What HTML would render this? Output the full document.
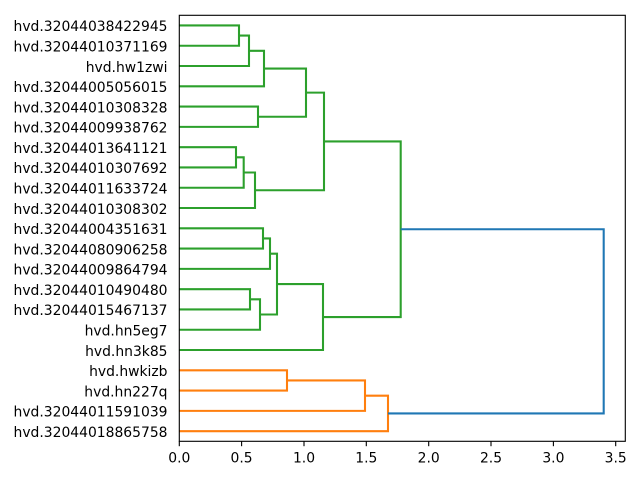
<!DOCTYPE html>
<html>
<head>
<meta charset="utf-8">
<style>
html,body{margin:0;padding:0;background:#fff;}
svg{display:block;}
text{font-family:"DejaVu Sans","Liberation Sans",sans-serif;font-size:13.9px;fill:#000;}
</style>
</head>
<body>
<svg width="640" height="480" viewBox="0 0 640 480" xmlns="http://www.w3.org/2000/svg">
<rect x="0" y="0" width="640" height="480" fill="#fff"/>
<g fill="none" stroke-width="2.08" stroke-linejoin="miter" stroke-linecap="butt">
<g stroke="#2ca02c">
<polyline points="179.3,25.44 239,25.44 239,45.73 179.3,45.73"/>
<polyline points="239,35.59 249,35.59 249,66.01 179.3,66.01"/>
<polyline points="249,50.80 264,50.80 264,86.30 179.3,86.30"/>
<polyline points="179.3,106.59 258,106.59 258,126.87 179.3,126.87"/>
<polyline points="264,68.55 306,68.55 306,116.73 258,116.73"/>
<polyline points="179.3,147.16 236,147.16 236,167.44 179.3,167.44"/>
<polyline points="236,157.30 243.7,157.30 243.7,187.73 179.3,187.73"/>
<polyline points="243.7,172.52 255,172.52 255,208.01 179.3,208.01"/>
<polyline points="306,92.64 324,92.64 324,190.26 255,190.26"/>
<polyline points="179.3,228.30 263,228.30 263,248.59 179.3,248.59"/>
<polyline points="263,238.44 270,238.44 270,268.87 179.3,268.87"/>
<polyline points="179.3,289.16 250,289.16 250,309.44 179.3,309.44"/>
<polyline points="250,299.30 260,299.30 260,329.73 179.3,329.73"/>
<polyline points="270,253.66 277,253.66 277,314.51 260,314.51"/>
<polyline points="277,284.09 323,284.09 323,350.02 179.3,350.02"/>
<polyline points="324,141.45 400.7,141.45 400.7,317.05 323,317.05"/>
</g>
<g stroke="#ff7f0e">
<polyline points="179.3,370.30 287,370.30 287,390.59 179.3,390.59"/>
<polyline points="287,380.44 365,380.44 365,410.87 179.3,410.87"/>
<polyline points="365,395.66 388,395.66 388,431.16 179.3,431.16"/>
</g>
<g stroke="#1f77b4">
<polyline points="400.7,229.25 603.7,229.25 603.7,413.41 388,413.41"/>
</g>
</g>
<rect x="179.3" y="15.3" width="446" height="426" fill="none" stroke="#000" stroke-width="1.11"/>
<g stroke="#000" stroke-width="1.11">
<line x1="179.3" y1="441.3" x2="179.3" y2="446.2"/>
<line x1="241.6" y1="441.3" x2="241.6" y2="446.2"/>
<line x1="304.0" y1="441.3" x2="304.0" y2="446.2"/>
<line x1="366.3" y1="441.3" x2="366.3" y2="446.2"/>
<line x1="428.7" y1="441.3" x2="428.7" y2="446.2"/>
<line x1="491.0" y1="441.3" x2="491.0" y2="446.2"/>
<line x1="553.4" y1="441.3" x2="553.4" y2="446.2"/>
<line x1="615.7" y1="441.3" x2="615.7" y2="446.2"/>
</g>
<g text-anchor="middle">
<text x="179.3" y="462.3">0.0</text>
<text x="241.6" y="462.3">0.5</text>
<text x="304.0" y="462.3">1.0</text>
<text x="366.3" y="462.3">1.5</text>
<text x="428.7" y="462.3">2.0</text>
<text x="491.0" y="462.3">2.5</text>
<text x="553.4" y="462.3">3.0</text>
<text x="615.7" y="462.3">3.5</text>
</g>
<g text-anchor="end">
<text x="167.5" y="31.2">hvd.32044038422945</text>
<text x="167.5" y="51.5">hvd.32044010371169</text>
<text x="167.5" y="71.8">hvd.hw1zwi</text>
<text x="167.5" y="92.1">hvd.32044005056015</text>
<text x="167.5" y="112.4">hvd.32044010308328</text>
<text x="167.5" y="132.7">hvd.32044009938762</text>
<text x="167.5" y="153.0">hvd.32044013641121</text>
<text x="167.5" y="173.2">hvd.32044010307692</text>
<text x="167.5" y="193.5">hvd.32044011633724</text>
<text x="167.5" y="213.8">hvd.32044010308302</text>
<text x="167.5" y="234.1">hvd.32044004351631</text>
<text x="167.5" y="254.4">hvd.32044080906258</text>
<text x="167.5" y="274.7">hvd.32044009864794</text>
<text x="167.5" y="295.0">hvd.32044010490480</text>
<text x="167.5" y="315.2">hvd.32044015467137</text>
<text x="167.5" y="335.5">hvd.hn5eg7</text>
<text x="167.5" y="355.8">hvd.hn3k85</text>
<text x="167.5" y="376.1">hvd.hwkizb</text>
<text x="167.5" y="396.4">hvd.hn227q</text>
<text x="167.5" y="416.7">hvd.32044011591039</text>
<text x="167.5" y="437.0">hvd.32044018865758</text>
</g>
</svg>
</body>
</html>
